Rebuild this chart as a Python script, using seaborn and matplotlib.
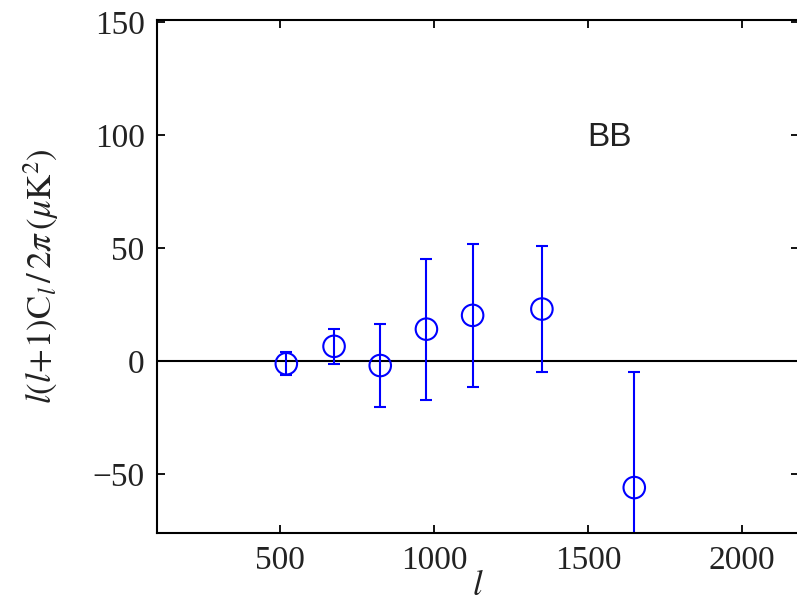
import matplotlib
matplotlib.use("Agg")
import matplotlib.pyplot as plt
import seaborn as sns
import pandas as pd

# BB band powers: multipole bin centres, values and 1-sigma errors
ell = [520, 675, 825, 975, 1125, 1350, 1650]
cl_bb = [-1.1, 6.6, -1.9, 14.2, 20.3, 23.1, -55.9]
cl_err = [5.1, 7.6, 18.3, 31.2, 31.7, 27.8, 51.2]

x_ticks = [500, 1000, 1500, 2000]
y_ticks = [-50, 0, 50, 100, 150]

sns.set_theme(style="ticks")
plt.rcParams["font.family"] = ["Liberation Serif", "DejaVu Serif"]
plt.rcParams["mathtext.fontset"] = "stix"

df = pd.DataFrame({"ell": ell, "cl": cl_bb, "err": cl_err})

fig = plt.figure(figsize=(7.97, 6.11), dpi=100)
ax = fig.add_axes([157 / 797, 1 - 533 / 611, (799 - 157) / 797, (533 - 20) / 611])

ax.axhline(0, color="black", lw=1.5, zorder=1)
ax.errorbar(df["ell"], df["cl"], yerr=df["err"], fmt="none", ecolor="blue",
            elinewidth=1.5, capsize=4, capthick=1.5, zorder=2)
sns.scatterplot(data=df, x="ell", y="cl", ax=ax, marker="o", s=240,
                facecolor="none", edgecolor="blue", linewidth=1.5, zorder=3)

ax.set_xlim(100, 2185)
ax.set_ylim(-76, 151)
ax.set_xticks(x_ticks)
ax.set_yticks(y_ticks)
ax.set_yticklabels(["\u221250", "0", "50", "100", "150"])
ax.tick_params(direction="in", length=6, width=1.3, top=True, right=True,
               labelsize=24, labelcolor="#222222", color="black", pad=9)
for s in ax.spines.values():
    s.set_linewidth(1.5)
    s.set_color("black")

ax.set_xlabel(r"$l$", fontsize=25, labelpad=-4, color="#222222")
ax.set_ylabel(r"$l(l\!+\!1)\mathrm{C}_{l}\,/\,2\pi\,(\mu\mathrm{K}^2)$",
              fontsize=25, color="#222222")
ax.yaxis.set_label_coords(-0.15, 0.5)
ax.text(1570, 99, "BB", fontsize=24, family="Liberation Sans",
        ha="center", va="center", color="#222222")

fig.savefig("out.png", dpi=100)
